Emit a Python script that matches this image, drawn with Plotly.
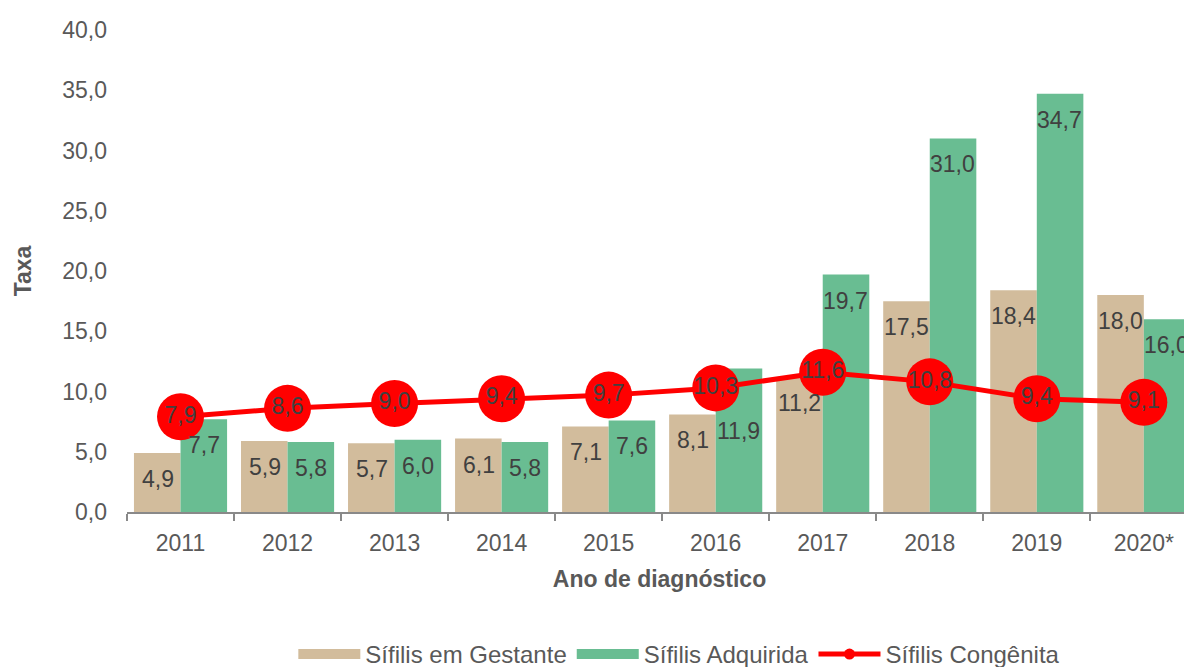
import plotly.graph_objects as go

years = ["2011", "2012", "2013", "2014", "2015", "2016", "2017", "2018", "2019", "2020*"]
gestante = [4.9, 5.9, 5.7, 6.1, 7.1, 8.1, 11.2, 17.5, 18.4, 18.0]
adquirida = [7.7, 5.8, 6.0, 5.8, 7.6, 11.9, 19.7, 31.0, 34.7, 16.0]
congenita = [7.9, 8.6, 9.0, 9.4, 9.7, 10.3, 11.6, 10.8, 9.4, 9.1]

TAN = "#D2BC9C"
GREEN = "#69BD92"
RED = "#FF0000"
LABEL = "#404040"
TICK = "#595959"
FONT = "Liberation Sans, Arial, sans-serif"
FS = 23

# label placement (style): default offset below bar top, with one manual override
LABEL_SHIFT = -26
LABEL_SHIFT_OVERRIDE_ADQ = {"2016": -62}

def fmt(v):
    return f"{v:.1f}".replace(".", ",")

fig = go.Figure()
fig.add_trace(go.Bar(name="Sífilis em Gestante", x=years, y=gestante, showlegend=False,
                     legendgroup="g", marker=dict(color=TAN, line=dict(width=0))))
fig.add_trace(go.Bar(name="Sífilis Adquirida", x=years, y=adquirida, showlegend=False,
                     legendgroup="a", marker=dict(color=GREEN, line=dict(width=0))))
fig.add_trace(go.Scatter(name="Sífilis Congênita", x=years, y=congenita,
                         mode="lines+markers+text", showlegend=False, legendgroup="c",
                         line=dict(color=RED, width=5),
                         marker=dict(color=RED, size=47),
                         text=[fmt(v) for v in congenita],
                         textposition="middle center",
                         textfont=dict(color=LABEL, size=FS, family=FONT)))

# legend entries (wide swatches like the original)
fig.add_trace(go.Scatter(name="Sífilis em Gestante", x=[None], y=[None], mode="lines",
                         legendgroup="g", line=dict(color=TAN, width=15)))
fig.add_trace(go.Scatter(name="Sífilis Adquirida", x=[None], y=[None], mode="lines",
                         legendgroup="a", line=dict(color=GREEN, width=15)))
fig.add_trace(go.Scatter(name="Sífilis Congênita", x=[None], y=[None], mode="lines+markers",
                         legendgroup="c", line=dict(color=RED, width=5),
                         marker=dict(color=RED, size=11)))

annotations = []
for i, (yr, g, a) in enumerate(zip(years, gestante, adquirida)):
    annotations.append(dict(x=i, y=g, xref="x", yref="y", text=fmt(g), showarrow=False,
                            xshift=-23, yshift=LABEL_SHIFT,
                            font=dict(color=LABEL, size=FS, family=FONT)))
    annotations.append(dict(x=i, y=a, xref="x", yref="y", text=fmt(a), showarrow=False,
                            xshift=23, yshift=LABEL_SHIFT_OVERRIDE_ADQ.get(yr, LABEL_SHIFT),
                            font=dict(color=LABEL, size=FS, family=FONT)))

fig.update_layout(
    width=1184, height=659,
    margin=dict(l=119, r=0, t=22, b=155, autoexpand=False),
    paper_bgcolor="white", plot_bgcolor="white",
    barmode="group", bargap=0.13, bargroupgap=0,
    separators=",.",
    font=dict(family=FONT, size=FS, color=TICK),
    annotations=annotations,
    showlegend=True,
    legend=dict(orientation="h", xref="container", yref="container",
                x=0.567, xanchor="center", y=0.019, yanchor="middle",
                font=dict(size=24, color=TICK), traceorder="normal",
                itemwidth=62, itemsizing="trace"),
    xaxis=dict(type="category", range=[-0.5, 9.45],
               showline=True, linecolor="#898989", linewidth=2,
               ticks="outside", tickson="boundaries", ticklen=7, tickcolor="#898989",
               tickwidth=2, showgrid=False, ticklabelstandoff=9,
               tickfont=dict(size=FS, color=TICK),
               title=dict(text="<b>Ano de diagnóstico</b>", standoff=16,
                          font=dict(size=FS, color=TICK))),
    yaxis=dict(range=[0, 40], dtick=5, tickformat=".1f", showgrid=False,
               showline=False, zeroline=False, ticks="", ticklabelstandoff=19,
               tickfont=dict(size=FS, color=TICK),
               title=dict(text="<b>Taxa</b>", standoff=24,
                          font=dict(size=FS, color=TICK))),
)

fig.write_html("out.html")
